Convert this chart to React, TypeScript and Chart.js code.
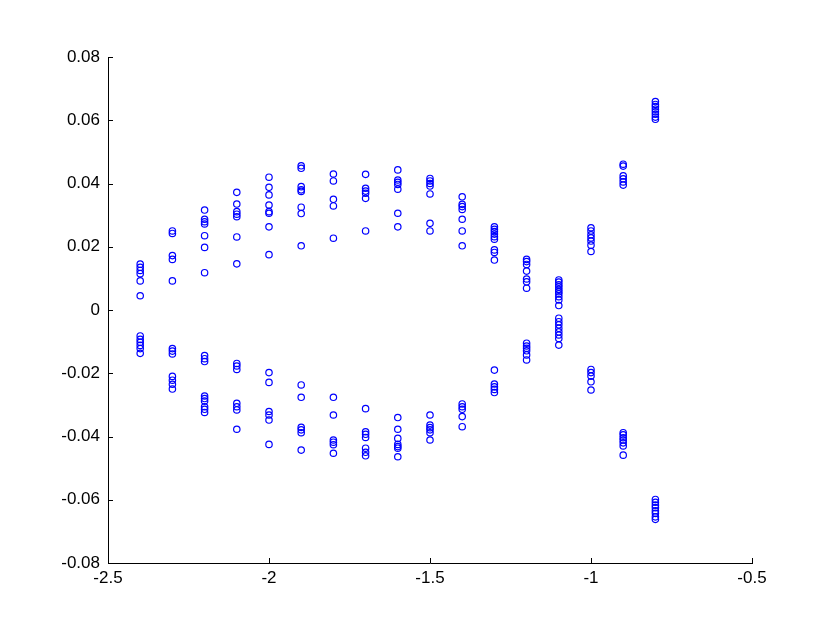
import React, { useEffect, useRef } from "react";
import { Chart, registerables } from "chart.js";

Chart.register(...registerables);

const xColumns = [-2.4, -2.3, -2.2, -2.1, -2.0, -1.9, -1.8, -1.7, -1.6, -1.5, -1.4, -1.3, -1.2, -1.1, -1.0, -0.9, -0.8];

const yAt240 = [0.0145, 0.0135, 0.0125, 0.0115, 0.0092, 0.0045, -0.0082, -0.0093, -0.0102, -0.0112, -0.0122, -0.0137];
const yAt230 = [0.025, 0.0242, 0.0172, 0.016, 0.0092, -0.0122, -0.013, -0.0139, -0.021, -0.0222, -0.0235, -0.025];
const yAt220 = [0.0316, 0.0287, 0.0279, 0.0272, 0.0235, 0.0198, 0.0118, -0.0144, -0.0154, -0.0163, -0.0272, -0.028, -0.0288, -0.0306, -0.0314, -0.0324];
const yAt210 = [0.0372, 0.0335, 0.0311, 0.0303, 0.0295, 0.0231, 0.0146, -0.0169, -0.0177, -0.0188, -0.0295, -0.0306, -0.0316, -0.0377];
const yAt200 = [0.042, 0.0388, 0.0364, 0.0332, 0.0311, 0.0306, 0.0263, 0.0175, -0.0198, -0.0229, -0.0321, -0.0332, -0.0348, -0.0425];
const yAt190 = [0.0456, 0.0448, 0.039, 0.038, 0.0375, 0.0325, 0.0305, 0.0203, -0.0237, -0.0276, -0.0371, -0.0379, -0.0388, -0.0443];
const yAt180 = [0.043, 0.0408, 0.035, 0.0329, 0.0227, -0.0276, -0.0332, -0.0411, -0.0418, -0.0426, -0.0453];
const yAt170 = [0.0429, 0.0385, 0.0376, 0.0369, 0.0353, 0.025, -0.0312, -0.0385, -0.0393, -0.0403, -0.0437, -0.045, -0.0461];
const yAt160 = [0.0443, 0.0411, 0.0404, 0.0397, 0.0382, 0.0306, 0.0263, -0.034, -0.0377, -0.0406, -0.0425, -0.0432, -0.0437, -0.0464];
const yAt150 = [0.0416, 0.0408, 0.04, 0.0392, 0.0367, 0.0274, 0.025, -0.0332, -0.0364, -0.0372, -0.0379, -0.0388, -0.0411];
const yAt140 = [0.0358, 0.0334, 0.0327, 0.0318, 0.0287, 0.025, 0.0203, -0.0297, -0.0306, -0.0314, -0.0337, -0.0369];
const yAt130 = [0.0263, 0.0255, 0.0248, 0.024, 0.0232, 0.0224, 0.019, 0.0182, 0.0158, -0.019, -0.0234, -0.0243, -0.0251, -0.0261];
const yAt120 = [0.016, 0.0153, 0.0144, 0.0123, 0.0098, 0.0089, 0.0069, -0.0105, -0.0114, -0.0121, -0.0129, -0.0142, -0.0158];
const yAt110 = [0.0095, 0.0088, 0.008, 0.0073, 0.0065, 0.0058, 0.0051, 0.0042, 0.0032, 0.0014, -0.0026, -0.0037, -0.0047, -0.0058, -0.0069, -0.0079, -0.009, -0.0111];
const yAt100 = [0.026, 0.025, 0.0238, 0.0228, 0.0218, 0.0205, 0.0185, -0.0188, -0.0198, -0.0209, -0.0227, -0.0253];
const yAt090 = [0.0461, 0.0455, 0.0424, 0.0415, 0.0405, 0.0395, -0.0388, -0.0395, -0.0404, -0.0411, -0.042, -0.043, -0.0459];
const yAt080 = [0.0659, 0.065, 0.0643, 0.0635, 0.0627, 0.0619, 0.061, 0.0603, -0.0599, -0.0608, -0.0617, -0.0625, -0.0635, -0.0643, -0.0654, -0.0662];

const yColumns = [yAt240, yAt230, yAt220, yAt210, yAt200, yAt190, yAt180, yAt170, yAt160, yAt150, yAt140, yAt130, yAt120, yAt110, yAt100, yAt090, yAt080];

const xTicks = [-2.5, -2, -1.5, -1, -0.5];
const yTicks = [-0.08, -0.06, -0.04, -0.02, 0, 0.02, 0.04, 0.06, 0.08];

const inwardTicks = {
  id: "inwardTicks",
  afterDraw(chart: any) {
    const { ctx, chartArea, scales } = chart;
    const len = 5;
    ctx.save();
    ctx.strokeStyle = "#000";
    ctx.lineWidth = 1;
    ctx.beginPath();
    for (const v of yTicks) {
      const py = Math.round(scales.y.getPixelForValue(v)) + 0.5;
      ctx.moveTo(chartArea.left, py);
      ctx.lineTo(chartArea.left + len, py);
    }
    for (const v of xTicks) {
      const px = Math.round(scales.x.getPixelForValue(v)) + 0.5;
      ctx.moveTo(px, chartArea.bottom);
      ctx.lineTo(px, chartArea.bottom - len);
    }
    ctx.stroke();
    ctx.restore();
  },
};

export default function App() {
  const ref = useRef<HTMLCanvasElement | null>(null);

  useEffect(() => {
    if (!ref.current) return;
    const points: { x: number; y: number }[] = [];
    xColumns.forEach((xv, i) => {
      yColumns[i].forEach((yv) => points.push({ x: xv, y: yv }));
    });
    const chart = new Chart(ref.current, {
      type: "scatter",
      data: {
        datasets: [
          {
            data: points,
            pointStyle: "circle",
            pointRadius: 3.2,
            pointBorderWidth: 1.2,
            borderColor: "#0000ff",
            backgroundColor: "rgba(0,0,0,0)",
            pointBackgroundColor: "rgba(0,0,0,0)",
            pointBorderColor: "#0000ff",
          } as any,
        ],
      },
      plugins: [inwardTicks],
      options: {
        responsive: false,
        animation: false,
        layout: { padding: { left: 0, top: 57, right: 78, bottom: 0 } },
        plugins: { legend: { display: false }, tooltip: { enabled: false } },
        scales: {
          x: {
            type: "linear",
            min: -2.5,
            max: -0.5,
            afterBuildTicks: (s: any) => {
              s.ticks = xTicks.map((v) => ({ value: v }));
            },
            afterFit: (s: any) => {
              s.height = 79;
            },
            grid: { display: false, drawTicks: false },
            border: { display: true, color: "#000", width: 1 },
            ticks: {
              color: "#000",
              padding: 5,
              maxRotation: 0,
              font: { family: "'Liberation Sans', Arial, sans-serif", size: 17 },
              callback: (v: any) => String(Number(Number(v).toFixed(2))),
            },
          },
          y: {
            type: "linear",
            min: -0.08,
            max: 0.08,
            afterBuildTicks: (s: any) => {
              s.ticks = yTicks.map((v) => ({ value: v }));
            },
            afterFit: (s: any) => {
              s.width = 108;
            },
            grid: { display: false, drawTicks: false },
            border: { display: true, color: "#000", width: 1 },
            ticks: {
              color: "#000",
              padding: 8,
              font: { family: "'Liberation Sans', Arial, sans-serif", size: 17 },
              callback: (v: any) => String(Number(Number(v).toFixed(2))),
            },
          },
        },
      },
    });
    return () => chart.destroy();
  }, []);

  return (
    <div style={{ position: "absolute", left: 0, top: 0, width: 830, height: 642, background: "#fff" }}>
      <canvas ref={ref} width={830} height={642} style={{ width: 830, height: 642 }} />
    </div>
  );
}
